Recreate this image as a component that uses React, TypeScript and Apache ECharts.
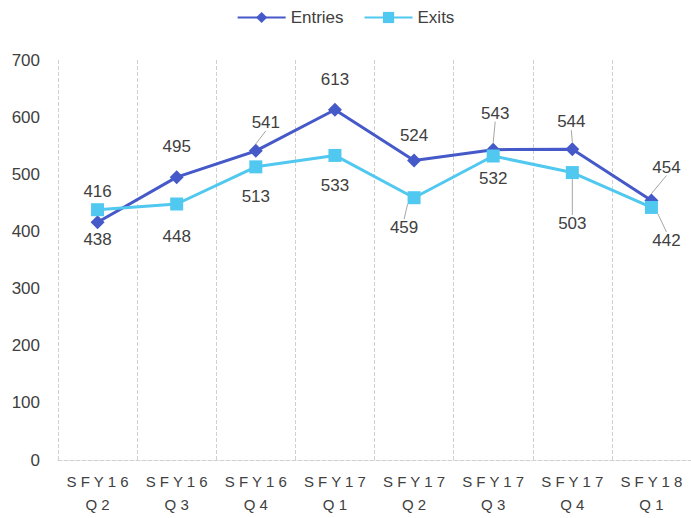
import React, { useEffect, useRef } from "react";
import * as echarts from "echarts";

const categories = [
  "S F Y 1 6\nQ 2",
  "S F Y 1 6\nQ 3",
  "S F Y 1 6\nQ 4",
  "S F Y 1 7\nQ 1",
  "S F Y 1 7\nQ 2",
  "S F Y 1 7\nQ 3",
  "S F Y 1 7\nQ 4",
  "S F Y 1 8\nQ 1",
];
const entries = [416, 495, 541, 613, 524, 543, 544, 454];
const exits = [438, 448, 513, 533, 459, 532, 503, 442];

// label nudges (px) and leader-line flags, as in the reference
const entriesLabelShift = [[0, 0], [0, 0], [10, 2], [0, 0], [0, 5], [2, -6], [-1, 3], [15, -3]];
const exitsLabelShift = [[0, 0], [0, 2], [0, 0], [0, 0], [-10, 0], [0, -8], [0, 21], [15, 3]];
const entriesLeader = [false, false, true, false, false, true, true, true];
const exitsLeader = [false, false, false, false, true, false, true, true];

const FONT = "Liberation Sans";
const TEXT = "#404040";

export default function App() {
  const ref = useRef<HTMLDivElement>(null);
  useEffect(() => {
    if (!ref.current) return;
    const chart = echarts.init(ref.current, undefined, { renderer: "svg" });
    const mk = (vals: number[], leader: boolean[]) =>
      vals.map((v, i) => ({ value: v, labelLine: { show: leader[i] } }));
    chart.setOption({
      animation: false,
      textStyle: { fontFamily: FONT },
      legend: {
        top: 4,
        left: "center",
        itemWidth: 48,
        itemHeight: 14,
        itemGap: 20,
        textStyle: { fontSize: 17, color: TEXT, fontFamily: FONT },
        data: ["Entries", "Exits"],
      },
      grid: { left: 58, right: -1, top: 60, bottom: 58, containLabel: false },
      xAxis: {
        type: "category",
        data: categories,
        boundaryGap: true,
        axisLine: { show: true, lineStyle: { color: "#d0d0d0", type: "dashed", width: 1 } },
        axisTick: { show: false },
        splitLine: { show: true, lineStyle: { color: "#d0d0d0", type: "dashed", width: 1 } },
        axisLabel: {
          margin: 10,
          fontSize: 15,
          lineHeight: 23,
          color: TEXT,
          fontFamily: FONT,
          interval: 0,
        },
      },
      yAxis: {
        type: "value",
        min: 0,
        max: 700,
        interval: 100,
        axisLine: { show: false },
        axisTick: { show: false },
        splitLine: { show: false },
        axisLabel: { margin: 18, fontSize: 17, color: TEXT, fontFamily: FONT },
      },
      series: [
        {
          name: "Entries",
          type: "line",
          data: mk(entries, entriesLeader),
          color: "#4659C8",
          lineStyle: { width: 3, color: "#4659C8" },
          symbol: "diamond",
          symbolSize: 14,
          itemStyle: { color: "#4659C8" },
          z: 3,
          label: {
            show: true,
            position: "top",
            distance: 15,
            fontSize: 17,
            color: TEXT,
            fontFamily: FONT,
          },
          labelLine: { show: false, lineStyle: { color: "#a6a6a6", width: 1 } },
          labelLayout: (p: any) => ({
            dx: entriesLabelShift[p.dataIndex][0],
            dy: entriesLabelShift[p.dataIndex][1],
          }),
        },
        {
          name: "Exits",
          type: "line",
          data: mk(exits, exitsLeader),
          color: "#50C8F0",
          lineStyle: { width: 3, color: "#50C8F0" },
          symbol: "rect",
          symbolSize: 13,
          itemStyle: { color: "#50C8F0" },
          z: 4,
          label: {
            show: true,
            position: "bottom",
            distance: 15,
            fontSize: 17,
            color: TEXT,
            fontFamily: FONT,
          },
          labelLine: { show: false, lineStyle: { color: "#a6a6a6", width: 1 } },
          labelLayout: (p: any) => ({
            dx: exitsLabelShift[p.dataIndex][0],
            dy: exitsLabelShift[p.dataIndex][1],
          }),
        },
      ],
    });
    return () => chart.dispose();
  }, []);
  return (
    <div
      ref={ref}
      style={{ position: "fixed", left: 0, top: 0, width: 691, height: 518, background: "#fff" }}
    />
  );
}
